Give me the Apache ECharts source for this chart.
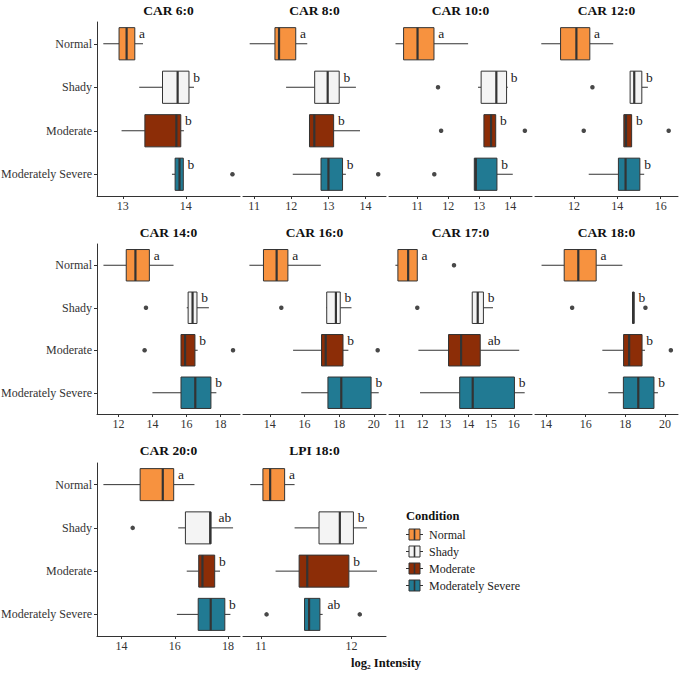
<!DOCTYPE html>
<html>
<head>
<meta charset="utf-8">
<script src="https://cdn.jsdelivr.net/npm/echarts@6.0.0/dist/echarts.min.js"></script>
<style>
html, body { margin: 0; padding: 0; background: #fff; }
#chart { width: 680px; height: 674px; }
</style>
</head>
<body>
<div id="chart"></div>
<script>
const categories = ['Normal', 'Shady', 'Moderate', 'Moderately Severe'];
const panelNames = ['CAR 6:0', 'CAR 8:0', 'CAR 10:0', 'CAR 12:0', 'CAR 14:0',
    'CAR 16:0', 'CAR 17:0', 'CAR 18:0', 'CAR 20:0', 'LPI 18:0'];

// box stats: [lower whisker, Q1, median, Q3, upper whisker], one row per condition
const car6 = [[12.69, 12.94, 13.06, 13.19, 13.32], [13.26, 13.63, 13.87, 14.05, 14.13],
    [12.98, 13.35, 13.85, 13.92, 13.97], [13.78, 13.83, 13.90, 13.96, 13.96]];
const car8 = [[10.88, 11.56, 11.67, 12.12, 12.43], [11.86, 12.63, 12.98, 13.29, 13.74],
    [12.49, 12.49, 12.62, 13.14, 13.85], [12.04, 12.80, 13.00, 13.38, 13.47]];
const car10 = [[10.30, 10.56, 11.01, 11.54, 12.64], [12.96, 13.06, 13.55, 13.88, 13.92],
    [13.15, 13.15, 13.38, 13.53, 13.53], [12.84, 12.84, 12.89, 13.57, 14.08]];
const car12 = [[10.49, 11.38, 12.11, 12.73, 13.81], [14.59, 14.59, 14.78, 15.13, 15.41],
    [14.30, 14.30, 14.40, 14.66, 14.66], [12.68, 14.05, 14.38, 15.04, 15.24]];
const car14 = [[11.12, 12.46, 13.00, 13.82, 15.24], [16.02, 16.10, 16.36, 16.62, 17.32],
    [15.68, 15.68, 15.92, 16.50, 16.66], [14.00, 15.68, 16.52, 17.44, 17.76]];
const car16 = [[12.82, 13.63, 14.39, 15.04, 16.94], [17.24, 17.28, 17.81, 18.06, 18.71],
    [15.34, 16.98, 17.22, 18.22, 18.53], [15.81, 17.35, 18.12, 19.84, 20.28]];
const car17 = [[10.81, 10.92, 11.37, 11.77, 11.77], [14.18, 14.18, 14.42, 14.67, 15.09],
    [11.82, 13.14, 13.69, 14.53, 16.24], [11.89, 13.63, 14.20, 16.03, 16.48]];
const car18 = [[13.78, 14.92, 15.63, 16.53, 17.85], [18.36, 18.36, 18.40, 18.44, 18.44],
    [16.84, 17.91, 18.19, 18.84, 18.99], [17.14, 17.90, 18.65, 19.44, 19.64]];
const car20 = [[13.32, 14.70, 15.55, 15.96, 16.74], [16.13, 16.40, 17.33, 17.36, 18.19],
    [16.45, 16.90, 17.04, 17.50, 17.70], [16.08, 16.88, 17.35, 17.88, 18.09]];
const lpi18 = [[10.88, 11.02, 11.10, 11.26, 11.37], [11.37, 11.64, 11.87, 12.02, 12.17],
    [11.16, 11.42, 11.51, 11.97, 12.28], [11.48, 11.48, 11.53, 11.65, 11.68]];

// outliers: [value, condition index]
const car6Out = [[14.74, 3]];
const car8Out = [[14.34, 3]];
const car10Out = [[11.67, 1], [11.77, 2], [14.47, 2], [11.55, 3]];
const car12Out = [[12.85, 1], [12.45, 2], [16.37, 2]];
const car14Out = [[13.62, 1], [13.54, 2], [18.74, 2]];
const car16Out = [[14.66, 1], [20.22, 2]];
const car17Out = [[13.38, 0], [11.77, 1]];
const car18Out = [[15.32, 1], [19.01, 1], [20.29, 2]];
const car20Out = [[14.42, 1]];
const lpi18Out = [[11.06, 3], [12.09, 3]];

// significance letters
const car6Letters = ['a', 'b', 'b', 'b'];
const car8Letters = ['a', 'b', 'b', 'b'];
const car10Letters = ['a', 'b', 'b', 'b'];
const car12Letters = ['a', 'b', 'b', 'b'];
const car14Letters = ['a', 'b', 'b', 'b'];
const car16Letters = ['a', 'b', 'b', 'b'];
const car17Letters = ['a', 'b', 'ab', 'b'];
const car18Letters = ['a', 'b', 'b', 'b'];
const car20Letters = ['a', 'ab', 'b', 'b'];
const lpi18Letters = ['a', 'b', 'b', 'ab'];

// x tick labels
const car6Ticks = [13, 14];
const car8Ticks = [11, 12, 13, 14];
const car10Ticks = [11, 12, 13, 14];
const car12Ticks = [12, 14, 16];
const car14Ticks = [12, 14, 16, 18];
const car16Ticks = [14, 16, 18, 20];
const car17Ticks = [11, 12, 13, 14, 15, 16];
const car18Ticks = [14, 16, 18, 20];
const car20Ticks = [14, 16, 18];
const lpi18Ticks = [11, 12];

const boxes = [car6, car8, car10, car12, car14, car16, car17, car18, car20, lpi18];
const outs = [car6Out, car8Out, car10Out, car12Out, car14Out, car16Out, car17Out, car18Out, car20Out, lpi18Out];
const letters = [car6Letters, car8Letters, car10Letters, car12Letters, car14Letters,
    car16Letters, car17Letters, car18Letters, car20Letters, lpi18Letters];
const ticks = [car6Ticks, car8Ticks, car10Ticks, car12Ticks, car14Ticks,
    car16Ticks, car17Ticks, car18Ticks, car20Ticks, lpi18Ticks];

// free x scales (ggplot-style 5% padding)
const xLimits = [[12.59, 14.86], [10.7, 14.55], [10.09, 14.7], [10.2, 16.8], [10.74, 19.15],
    [12.45, 20.7], [10.53, 16.8], [13.45, 20.65], [13.08, 18.45], [10.8, 12.38]];

const serif = 'Liberation Serif';
const ink = '#333333';
const fills = ['#F7923F', '#F4F4F4', '#8C2D07', '#217A93'];

const colLeft = [97, 243, 389, 535];
const panelWidth = 143;
const rowTop = [22, 244, 463];
const rowHeight = [174, 170, 173];
const titleY = [10.5, 232.5, 450];

function boxRenderer(marks) {
    return function (params, api) {
        const i = api.value(0);
        const px = d => api.coord([api.value(d), i])[0];
        const cy = api.coord([api.value(3), i])[1];
        const h = api.size([0, 1])[1] * 0.74;
        const lo = px(1), q1 = px(2), md = px(3), q3 = px(4), hi = px(5);
        const top = cy - h / 2;
        const mark = marks[params.dataIndex];
        return {
            type: 'group',
            children: [
                { type: 'line', shape: { x1: lo, y1: cy, x2: q1, y2: cy }, style: { stroke: ink, lineWidth: 1 } },
                { type: 'line', shape: { x1: q3, y1: cy, x2: hi, y2: cy }, style: { stroke: ink, lineWidth: 1 } },
                { type: 'rect', shape: { x: q1, y: top, width: q3 - q1, height: h },
                  style: { fill: fills[i], stroke: ink, lineWidth: 1 } },
                { type: 'line', shape: { x1: md, y1: top, x2: md, y2: top + h }, style: { stroke: ink, lineWidth: 2.2 } },
                { type: 'text', x: q3 + 1 + 3.3 * mark.length, y: cy - 10,
                  style: { text: mark, fill: '#1a1a1a', fontSize: 13.5, fontFamily: serif,
                           align: 'left', verticalAlign: 'middle' } }
            ]
        };
    };
}

const grid = [], xAxis = [], yAxis = [], series = [], graphic = [];

panelNames.forEach((name, p) => {
    const col = p % 4, row = Math.floor(p / 4);
    const firstCol = col === 0;
    grid.push({ left: colLeft[col], top: rowTop[row], width: panelWidth, height: rowHeight[row],
        outerBoundsMode: 'none' });
    xAxis.push({
        gridIndex: p, type: 'value', min: xLimits[p][0], max: xLimits[p][1],
        axisLine: { show: true, lineStyle: { color: ink, width: 1 } },
        axisTick: { show: true, length: 3, customValues: ticks[p], lineStyle: { color: ink } },
        axisLabel: { customValues: ticks[p], margin: 4, fontSize: 12, fontFamily: serif, color: '#333' },
        splitLine: { show: false }
    });
    yAxis.push({
        gridIndex: p, type: 'category', data: categories, inverse: true,
        axisLine: { show: firstCol, lineStyle: { color: ink, width: 1 } },
        axisTick: { show: firstCol, length: 3, alignWithLabel: true, lineStyle: { color: ink } },
        axisLabel: { show: firstCol, margin: 5, fontSize: 12, fontFamily: serif, color: '#333' },
        splitLine: { show: false }
    });
    series.push({
        type: 'custom', xAxisIndex: p, yAxisIndex: p, silent: true, clip: false,
        data: boxes[p].map((b, i) => [i].concat(b)),
        encode: { x: [1, 2, 3, 4, 5], y: 0 },
        renderItem: boxRenderer(letters[p])
    });
    series.push({
        type: 'scatter', xAxisIndex: p, yAxisIndex: p, silent: true,
        data: outs[p], symbolSize: 4.5, itemStyle: { color: '#1a1a1a' }
    });
    graphic.push({
        type: 'text', x: colLeft[col] + panelWidth / 2, y: titleY[row],
        style: { text: name, fill: '#111', fontSize: 13.5, fontWeight: 'bold', fontFamily: serif,
                 align: 'center', verticalAlign: 'middle', textAlign: 'center', textVerticalAlign: 'middle' }
    });
});

// x axis title
graphic.push({
    type: 'text', x: 386, y: 663,
    style: { text: 'log₂ Intensity', fill: '#111', fontSize: 12.5, fontWeight: 'bold', fontFamily: serif,
             align: 'center', verticalAlign: 'middle', textAlign: 'center', textVerticalAlign: 'middle' }
});

// legend
graphic.push({
    type: 'text', x: 406, y: 516,
    style: { text: 'Condition', fill: '#111', fontSize: 12.5, fontWeight: 'bold', fontFamily: serif,
             align: 'left', verticalAlign: 'middle', textAlign: 'left', textVerticalAlign: 'middle' }
});
const legendY = [534.5, 551.5, 568.5, 585.5];
categories.forEach((c, i) => {
    const y = legendY[i];
    graphic.push({ type: 'line', shape: { x1: 406, y1: y, x2: 423, y2: y }, style: { stroke: ink, lineWidth: 1 } });
    graphic.push({ type: 'rect', shape: { x: 409, y: y - 5.5, width: 11, height: 11 },
        style: { fill: fills[i], stroke: ink, lineWidth: 1 } });
    graphic.push({ type: 'line', shape: { x1: 414.5, y1: y - 5.5, x2: 414.5, y2: y + 5.5 },
        style: { stroke: ink, lineWidth: 1.6 } });
    graphic.push({
        type: 'text', x: 429, y: y,
        style: { text: c, fill: '#222', fontSize: 12, fontFamily: serif,
                 align: 'left', verticalAlign: 'middle', textAlign: 'left', textVerticalAlign: 'middle' }
    });
});

const myChart = echarts.init(document.getElementById('chart'), null, { renderer: 'svg' });
myChart.setOption({
    animation: false,
    backgroundColor: '#fff',
    grid: grid,
    xAxis: xAxis,
    yAxis: yAxis,
    series: series,
    graphic: graphic
});
</script>
</body>
</html>
